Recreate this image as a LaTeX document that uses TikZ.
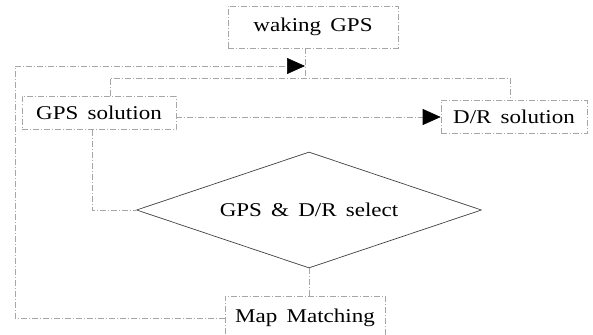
\documentclass[tikz,border=0pt]{standalone}
\usepackage{fontspec}
\setmainfont[FakeStretch=1.18,WordSpace=1.6]{Liberation Serif}
\usetikzlibrary{shapes.geometric,arrows.meta}

\begin{document}
\begin{tikzpicture}[x=1pt,y=-1pt,
  box/.style={draw=gray!70, dash pattern=on 6pt off 2pt on 1pt off 2pt, line width=0.6pt,
    inner sep=0pt, font=\fontsize{19.5}{23}\selectfont},
  link/.style={draw=gray!70, dash pattern=on 6pt off 2pt on 1pt off 2pt, line width=0.6pt},
  tip/.style={-{Triangle[length=18pt,width=16pt,color=black]}}]

  \clip (0,0) rectangle (593,334);
  \useasboundingbox (0,0) rectangle (593,334);

  \node[box, minimum width=170pt, minimum height=42pt] (waking) at (313,27) {waking GPS};
  \node[box, minimum width=154pt, minimum height=33pt] (gpssol) at (99,113) {GPS solution};
  \node[box, minimum width=146pt, minimum height=33pt] (drsol) at (514,117) {D/R solution};
  \node[draw=black!75, line width=0.7pt, diamond, aspect=3, minimum width=345pt, minimum height=116pt,
    inner sep=0pt, font=\fontsize{19.5}{23}\selectfont] (select) at (309,210) {GPS \& D/R select};
  \node[box, minimum width=160pt, minimum height=44pt] (map) at (305,318) {Map Matching};

  % junctions
  \coordinate (merge) at (305,66);
  \coordinate (loopc) at (15,66);
  \coordinate (jl) at (110,78);
  \coordinate (jr) at (510,78);
  \coordinate (gdown) at (92,130);

  \draw[link] (waking.south -| merge) -- (merge |- jl);
  \draw[link] (jl |- gpssol.north) -- (jl) -- (jr) -- (jr |- drsol.north);
  \draw[link,tip] (drsol.west -| gpssol.east) -- (drsol.west);
  \draw[link] (gdown) |- (select.west);
  \draw[link] (select.south) -- (select.south |- map.north);
  \draw[link,tip] (map.west) -| (loopc) -- (merge);

\end{tikzpicture}
\end{document}
